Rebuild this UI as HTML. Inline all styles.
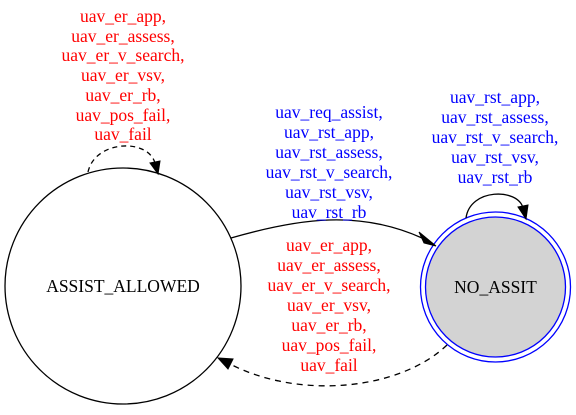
<!DOCTYPE html>
<html><head><style>html,body{margin:0;padding:0;background:#fff}
svg text{font-family:"Liberation Serif","Times New Roman",serif;font-size:17.5px}</style></head>
<body>
<svg width="576" height="410" viewBox="0 0 576 410" xmlns="http://www.w3.org/2000/svg" text-anchor="middle">
<rect width="576" height="410" fill="#fff"/>
<circle cx="123" cy="286" r="118" fill="none" stroke="#000" stroke-width="1.3"/>
<text x="123" y="292">ASSIST_ALLOWED</text>
<circle cx="495.5" cy="287" r="75" fill="none" stroke="#00f" stroke-width="1.3"/>
<circle cx="495.5" cy="287" r="70" fill="#d3d3d3" stroke="#00f" stroke-width="1.3"/>
<text x="495.5" y="293">NO_ASSIT</text>
<path d="M88,172 C95,140 148,138 155,163" fill="none" stroke="#000" stroke-width="1.3" stroke-dasharray="5,4"/>
<polygon points="150,163 160,161 158,174" fill="#000" stroke="#000"/>
<path d="M466,218 C470,188 518,188 523,208" fill="none" stroke="#000" stroke-width="1.3"/>
<polygon points="518,207 528,205 526,219" fill="#000" stroke="#000"/>
<path d="M231,238 C300,218 360,210 422,238" fill="none" stroke="#000" stroke-width="1.3"/>
<polygon points="419,232 424,243 436,246" fill="#000" stroke="#000"/>
<path d="M447,345 C400,390 300,400 230,364" fill="none" stroke="#000" stroke-width="1.3" stroke-dasharray="6,5"/>
<polygon points="233,359 228,369 218,358" fill="#000" stroke="#000"/>
<g fill="#f00">
<text x="123" y="22">uav_er_app,</text>
<text x="123" y="42">uav_er_assess,</text>
<text x="123" y="61">uav_er_v_search,</text>
<text x="123" y="81">uav_er_vsv,</text>
<text x="123" y="101">uav_er_rb,</text>
<text x="123" y="121">uav_pos_fail,</text>
<text x="123" y="140">uav_fail</text>
<text x="329" y="251">uav_er_app,</text>
<text x="329" y="271">uav_er_assess,</text>
<text x="329" y="291">uav_er_v_search,</text>
<text x="329" y="311">uav_er_vsv,</text>
<text x="329" y="331">uav_er_rb,</text>
<text x="329" y="351">uav_pos_fail,</text>
<text x="329" y="371">uav_fail</text>
</g>
<g fill="#00f">
<text x="329" y="118">uav_req_assist,</text>
<text x="329" y="138">uav_rst_app,</text>
<text x="329" y="158">uav_rst_assess,</text>
<text x="329" y="178">uav_rst_v_search,</text>
<text x="329" y="198">uav_rst_vsv,</text>
<text x="329" y="218">uav_rst_rb</text>
<text x="495" y="103">uav_rst_app,</text>
<text x="495" y="123">uav_rst_assess,</text>
<text x="495" y="143">uav_rst_v_search,</text>
<text x="495" y="163">uav_rst_vsv,</text>
<text x="495" y="183">uav_rst_rb</text>
</g>
</svg>
</body></html>
